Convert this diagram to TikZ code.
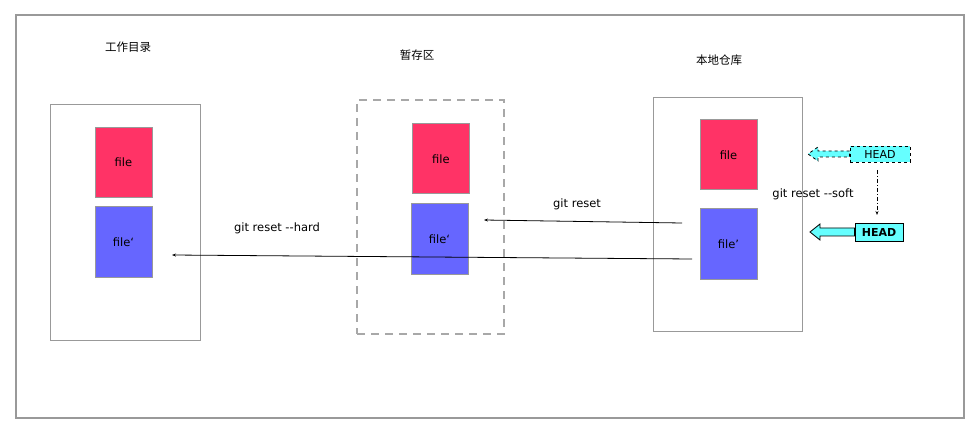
\documentclass[tikz,border=0pt]{standalone}
\usepackage{fontspec}
\setmainfont{DejaVu Sans}
\newfontfamily\cjk{Noto Sans CJK SC}
\usetikzlibrary{arrows.meta,calc}
\definecolor{fred}{HTML}{FF3366}
\definecolor{fblue}{HTML}{6666FF}
\definecolor{fcyan}{HTML}{66FFFF}
\definecolor{bgray}{HTML}{999999}
\definecolor{dgray}{HTML}{A8A8A8}
\tikzset{
  area/.style={draw=bgray, line width=1pt},
  redfile/.style={draw=bgray, fill=fred, line width=1pt, minimum width=57pt, minimum height=70pt, inner sep=0pt, font=\fontsize{11.5}{13}\selectfont},
  bluefile/.style={draw=bgray, fill=fblue, line width=1pt, minimum width=57pt, minimum height=70pt, inner sep=0pt, font=\fontsize{11.5}{13}\selectfont},
  title/.style={font=\cjk\fontsize{11.5}{13}\selectfont},
  lbl/.style={font=\fontsize{11.5}{13}\selectfont},
  conn/.style={draw=black, line width=0.8pt, -{Stealth[length=4pt,width=3pt]}},
  headbox/.style={fill=fcyan, draw=black, line width=0.8pt, inner sep=0pt, font=\fontsize{11}{13}\selectfont}
}
\begin{document}
\begin{tikzpicture}[x=1pt,y=-1pt]
\useasboundingbox (0,0) rectangle (979,430);
\draw[bgray, line width=1.2pt] (16,15) rectangle (964,418);
% areas
\node[area, minimum width=150pt, minimum height=235pt, inner sep=0pt] (wd) at (125,222.5) {};
\node[draw=dgray, dash pattern=on 8pt off 6pt, line width=1.1pt, minimum width=147pt, minimum height=234pt, inner sep=0pt] (st) at (430.5,217) {};
\node[area, minimum width=149pt, minimum height=233pt, inner sep=0pt] (rp) at (727.5,214.5) {};
% titles
\node[title] (t1) at (128,47) {工作目录};
\node[title] (t2) at (417,55) {暂存区};
\node[title] (t3) at (719,60) {本地仓库};
% files
\node[redfile] (wdr) at (123.5,162.5) {file};
\node[bluefile] (wdb) at (123.5,242) {file‘};
\node[redfile] (str) at (441,159) {file};
\node[bluefile] (stb) at (439.5,239) {file‘};
\node[redfile] (rpr) at (728.5,155) {file};
\node[bluefile] (rpb) at (728.5,244) {file'};
% connectors
\coordinate (a1) at (682,223);
\coordinate (a2) at (484,220);
\coordinate (b1) at (692,259);
\coordinate (b2) at (172,255);
\draw[conn] (a1) -- (a2);
\draw[conn] (b1) -- (b2);
\node[lbl] (l1) at (577,204) {git reset};
\node[lbl] (l2) at (277,228) {git reset -{}-hard};
\node[lbl] (l3) at (813,194) {git reset -{}-soft};
% HEAD top (dashed)
\node[headbox, dashed, minimum width=60pt, minimum height=16pt] (h1) at (880,154) {HEAD};
\draw[fill=fcyan, draw=black, line width=0.8pt, dashed] ($(h1.west)+(0,-3)$) -- (818,151) -- (818,147) -- (808,154) -- (818,161) -- (818,157) -- ($(h1.west)+(0,3)$) -- cycle;
% HEAD bottom
\node[headbox, minimum width=48pt, minimum height=18pt, font=\bfseries\fontsize{11}{13}\selectfont] (h2) at (879,232) {HEAD};
\draw[fill=fcyan, draw=black, line width=0.8pt] ($(h2.west)+(0,-4)$) -- (820,228) -- (820,224) -- (810,232) -- (820,240) -- (820,236) -- ($(h2.west)+(0,4)$) -- cycle;
\coordinate (v1) at (877,170);
\coordinate (v2) at (877,215);
\draw[black, line width=0.6pt, dash pattern=on 4pt off 2pt on 1pt off 2pt, -{Stealth[length=4pt,width=3pt]}] (v1) -- (v2);
\end{tikzpicture}
\end{document}
